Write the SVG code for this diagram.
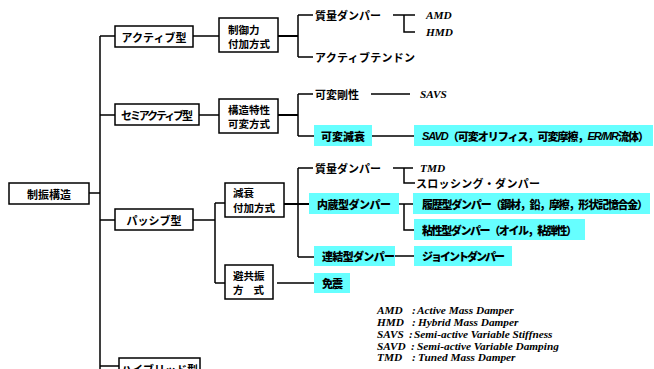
<svg xmlns="http://www.w3.org/2000/svg" width="654" height="369" viewBox="0 0 654 369">
<style>
.box{fill:#fff;stroke:#000;stroke-width:1.5}
.cy{fill:#66ffff;stroke:none}
.ln{stroke:#000;stroke-width:1.5;fill:none}
.tk{stroke-width:2}
.jp{font-family:"Noto Sans CJK JP","Noto Sans",sans-serif;font-size:11px;font-weight:700;fill:#000;dominant-baseline:central}
.j2{font-size:10.5px}
.jb{font-weight:900}
.mid{text-anchor:middle}
.en{font-family:"Liberation Serif",serif;font-style:italic;font-weight:bold;font-size:11.3px;fill:#000}
.ei{font-family:"Liberation Sans",sans-serif;font-style:italic;font-weight:bold}
</style>
<rect width="654" height="369" fill="#fff"/>
<g id="connectors">
<path class="ln" d="M100,36V369M89,193H100M100,36H115M100,115H115M100,220H115M100,366H119"/>
<path class="ln" d="M193,36H219M199,115H219M193,220H215M215,203V283M215,203H225M215,283H225"/>
<path class="ln tk" d="M278,36H298M278,115H298M284,204H309"/>
<path class="ln" d="M298,15V57M298,15H313M298,57H313"/>
<path class="ln" d="M393,15H415M404,15V32H415"/>
<path class="ln" d="M298,94V136M298,94H313M298,136H314M371,94H410M372,136H414"/>
<path class="ln" d="M298,168V257M298,168H313M298,257H314"/>
<path class="ln" d="M393,168H413M404,168V183H415"/>
<path class="ln" d="M399,204H413M404,204V230H414"/>
<path class="ln" d="M395,256H414M277,283H314"/>
</g>
<g id="n-root"><rect class="box" x="9" y="183" width="80" height="21"/><text class="jp mid" x="49" y="193.5">制振構造</text></g>
<g id="n-active"><rect class="box" x="115" y="26" width="78" height="21"/><text class="jp mid" x="154" y="36.5">アクティブ型</text></g>
<g id="n-semi"><rect class="box" x="115" y="104" width="84" height="21"/><text class="jp mid" x="157" y="114.5" font-size="9" textLength="72">セミアクティブ型</text></g>
<g id="n-passive"><rect class="box" x="115" y="209" width="78" height="21"/><text class="jp mid" x="154" y="219.5">パッシブ型</text></g>
<g id="n-hybrid"><rect class="box" x="119" y="358" width="81" height="22"/><text class="jp mid" x="159.5" y="369">ハイブリッド型</text></g>
<g id="n-ctrl"><rect class="box" x="219" y="18" width="59" height="34"/><text class="jp j2" x="228" y="29">制御力</text><text class="jp j2" x="228" y="43">付加方式</text></g>
<g id="n-struct"><rect class="box" x="219" y="99" width="59" height="34"/><text class="jp j2" x="228" y="109">構造特性</text><text class="jp j2" x="228" y="123">可変方式</text></g>
<g id="n-damp"><rect class="box" x="225" y="183" width="59" height="34"/><text class="jp j2" x="233" y="192.5">減衰</text><text class="jp j2" x="233" y="207">付加方式</text></g>
<g id="n-avoid"><rect class="box" x="225" y="265" width="48" height="34"/><text class="jp j2" x="233" y="275">避共振</text><text class="jp j2" x="233" y="289" textLength="31">方　式</text></g>
<g id="t-mass1"><text class="jp" x="315" y="15">質量ダンパー</text></g>
<g id="t-amd"><text class="en" x="426" y="19">AMD</text></g>
<g id="t-hmd"><text class="en" x="426" y="36">HMD</text></g>
<g id="t-tendon"><text class="jp" x="315" y="57" textLength="100">アクティブテンドン</text></g>
<g id="t-varstiff"><text class="jp" x="315" y="94">可変剛性</text></g>
<g id="t-savs"><text class="en" x="420" y="98">SAVS</text></g>
<g id="n-vardamp"><rect class="cy" x="314" y="125" width="58" height="21"/><text class="jp jb mid" x="343" y="135.5">可変減衰</text></g>
<g id="n-savd"><rect class="cy" x="414" y="125" width="239" height="21"/><text class="jp jb" x="422" y="135.5" font-size="10" textLength="227"><tspan class="ei">SAVD</tspan>（可変オリフィス，可変摩擦，<tspan class="ei">ER/MR</tspan>流体）</text></g>
<g id="t-mass2"><text class="jp" x="315" y="168">質量ダンパー</text></g>
<g id="t-tmd"><text class="en" x="420" y="172">TMD</text></g>
<g id="t-slosh"><text class="jp" x="416" y="183" textLength="124">スロッシング・ダンパー</text></g>
<g id="n-inner"><rect class="cy" x="309" y="193" width="90" height="21"/><text class="jp jb" x="317" y="203.5" textLength="74">内蔵型ダンパー</text></g>
<g id="n-hyst"><rect class="cy" x="413" y="193" width="237" height="21"/><text class="jp jb" x="422" y="203.5" font-size="10" textLength="226">履歴型ダンパー（鋼材，鉛，摩擦，形状記憶合金）</text></g>
<g id="n-visc"><rect class="cy" x="414" y="219" width="171" height="21"/><text class="jp jb" x="422" y="229.5" font-size="10" textLength="155">粘性型ダンパー（オイル，粘弾性）</text></g>
<g id="n-link"><rect class="cy" x="314" y="246" width="81" height="20"/><text class="jp jb" x="322" y="256" textLength="73">連結型ダンパー</text></g>
<g id="n-joint"><rect class="cy" x="414" y="246" width="98" height="20"/><text class="jp jb" x="422" y="256" textLength="83">ジョイントダンパー</text></g>
<g id="n-iso"><rect class="cy" x="314" y="273" width="36" height="20"/><text class="jp jb" x="322" y="283" textLength="21">免震</text></g>
<g id="legend" class="en">
<text x="377" y="314">AMD</text><text x="412" y="314">:</text><text x="417" y="314">Active Mass Damper</text>
<text x="377" y="326">HMD</text><text x="412" y="326">:</text><text x="418" y="326">Hybrid Mass Damper</text>
<text x="377" y="338">SAVS</text><text x="409" y="338">:</text><text x="414" y="338">Semi-active Variable Stiffness</text>
<text x="377" y="350">SAVD</text><text x="411" y="350">:</text><text x="417" y="350">Semi-active Variable Damping</text>
<text x="377" y="361">TMD</text><text x="412" y="361">:</text><text x="418" y="361">Tuned Mass Damper</text>
</g>
</svg>
